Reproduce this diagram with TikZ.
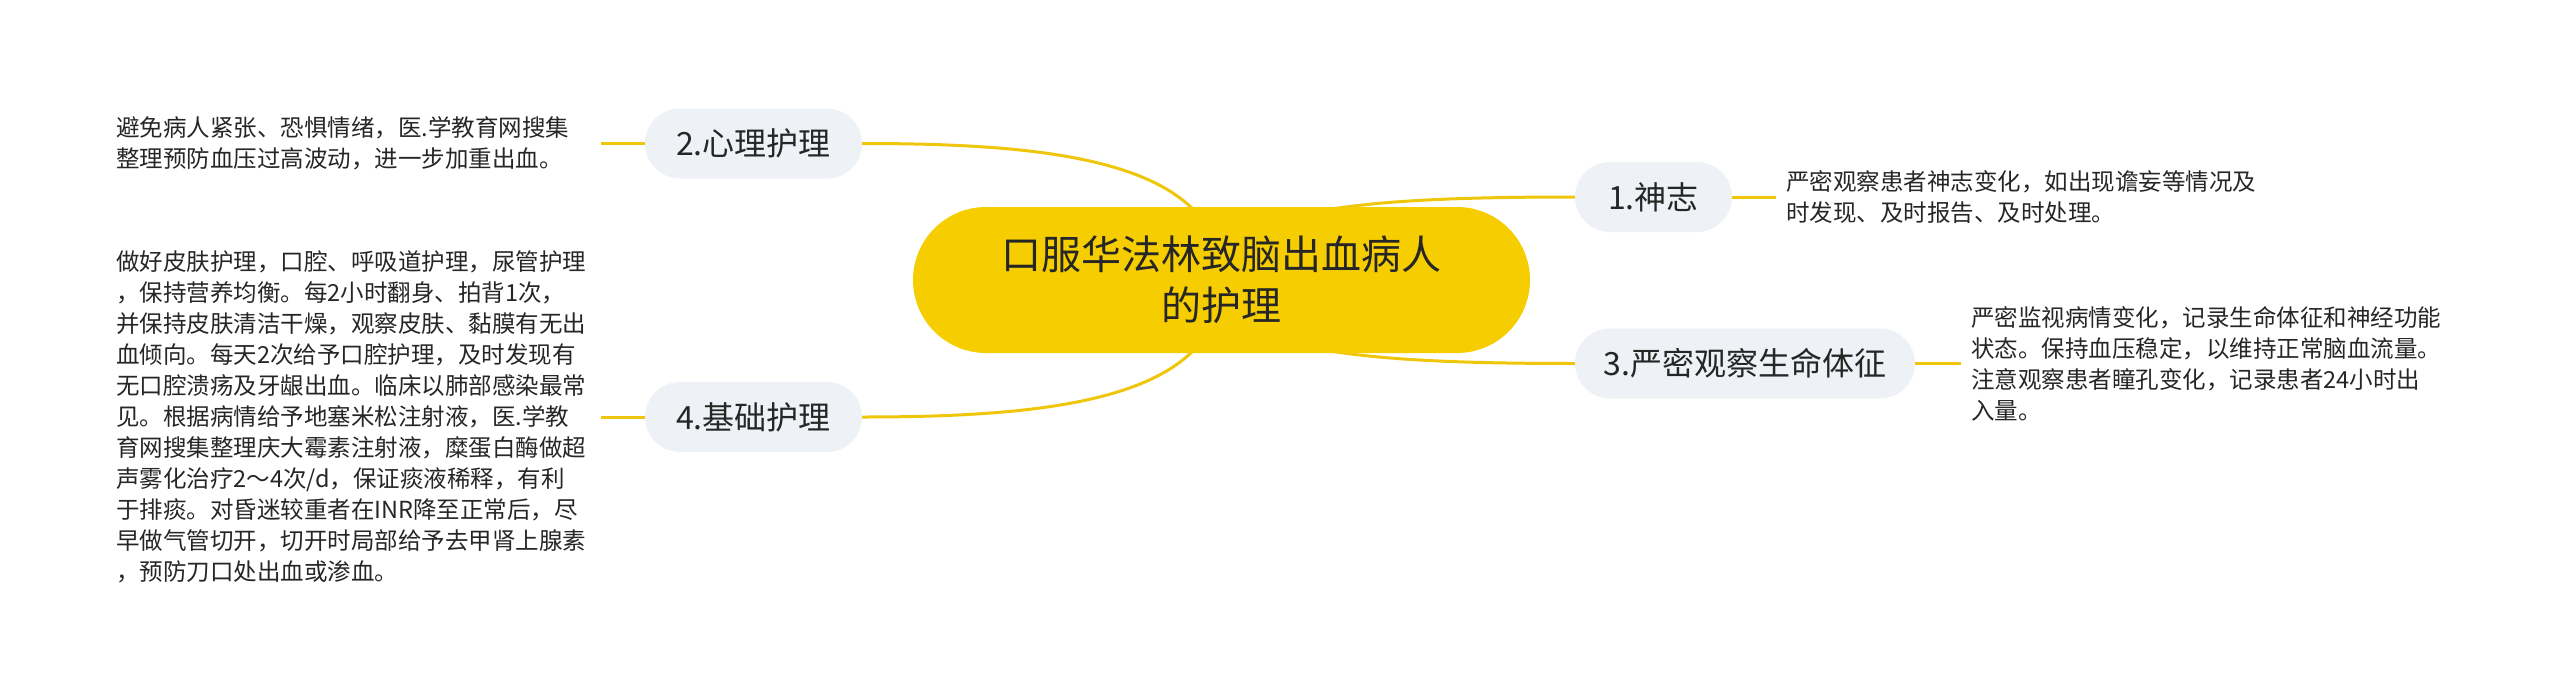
\documentclass[tikz,border=0pt]{standalone}
\usepackage{fontspec}
\newfontfamily\cjk{Noto Sans CJK SC}
\usetikzlibrary{backgrounds}
\definecolor{cyellow}{HTML}{F6CD00}
\definecolor{lyellow}{HTML}{F0C60A}
\definecolor{nodegray}{HTML}{EEF1F5}
\definecolor{txt}{HTML}{262626}
\tikzset{
  centernode/.style={fill=cyellow, rounded corners=73pt, minimum width=617pt, minimum height=146pt,
    align=center, font=\cjk\fontsize{40}{51}\selectfont, text=txt, inner sep=0pt},
  branchnode/.style={fill=nodegray, rounded corners=35pt, minimum height=70pt,
    font=\cjk\fontsize{32}{38}\selectfont, text=txt, inner sep=0pt},
  detail/.style={font=\cjk\fontsize{23.5}{31}\selectfont, text=txt, align=left,
    inner xsep=10pt, inner ysep=0pt, anchor=west},
  leftdetail/.style={detail, text width=475pt},
  link/.style={draw=lyellow, line width=3pt},
}
\begin{document}
\begin{tikzpicture}[x=1pt,y=-1pt]
\useasboundingbox (0,0) rectangle (2560,699);

\node[centernode] (c) at (1221.5,280) {口服华法林致脑出血病人\\的护理};

\node[branchnode, minimum width=217pt] (b2) at (753.5,143.5) {2.心理护理};
\node[branchnode, minimum width=217pt] (b4) at (753.5,417) {4.基础护理};
\node[branchnode, minimum width=157pt] (b1) at (1653.5,197) {1.神志};
\node[branchnode, minimum width=340pt] (b3) at (1745,363.5) {3.严密观察生命体征};

\node[leftdetail] (t2) at (106,143.5) {避免病人紧张、恐惧情绪，医.学教育网搜集\\整理预防血压过高波动，进一步加重出血。};
\node[leftdetail] (t4) at (106,417) {做好皮肤护理，口腔、呼吸道护理，尿管护理\\，保持营养均衡。每2小时翻身、拍背1次，\\并保持皮肤清洁干燥，观察皮肤、黏膜有无出\\血倾向。每天2次给予口腔护理，及时发现有\\无口腔溃疡及牙龈出血。临床以肺部感染最常\\见。根据病情给予地塞米松注射液，医.学教\\育网搜集整理庆大霉素注射液，糜蛋白酶做超\\声雾化治疗2～4次/d，保证痰液稀释，有利\\于排痰。对昏迷较重者在INR降至正常后，尽\\早做气管切开，切开时局部给予去甲肾上腺素\\，预防刀口处出血或渗血。};
\node[detail] (t1) at (1776,197) {严密观察患者神志变化，如出现谵妄等情况及\\时发现、及时报告、及时处理。};
\node[detail] (t3) at (1961,363.5) {严密监视病情变化，记录生命体征和神经功能\\状态。保持血压稳定，以维持正常脑血流量。\\注意观察患者瞳孔变化，记录患者24小时出\\入量。};

\begin{scope}[on background layer]
\draw[link] (c.center) .. controls +(0,-120) and +(188,0) .. (b2.east);
\draw[link] (c.center) .. controls +(0,120) and +(188,0) .. (b4.east);
\draw[link] (c.center) .. controls +(0,-70) and +(-225,0) .. (b1.west);
\draw[link] (c.center) .. controls +(0,70) and +(-225,0) .. (b3.west);
\draw[link] (b2.west) -- (t2.east);
\draw[link] (b4.west) -- (t4.east);
\draw[link] (b1.east) -- (t1.west);
\draw[link] (b3.east) -- (t3.west);
\end{scope}
\end{tikzpicture}
\end{document}
